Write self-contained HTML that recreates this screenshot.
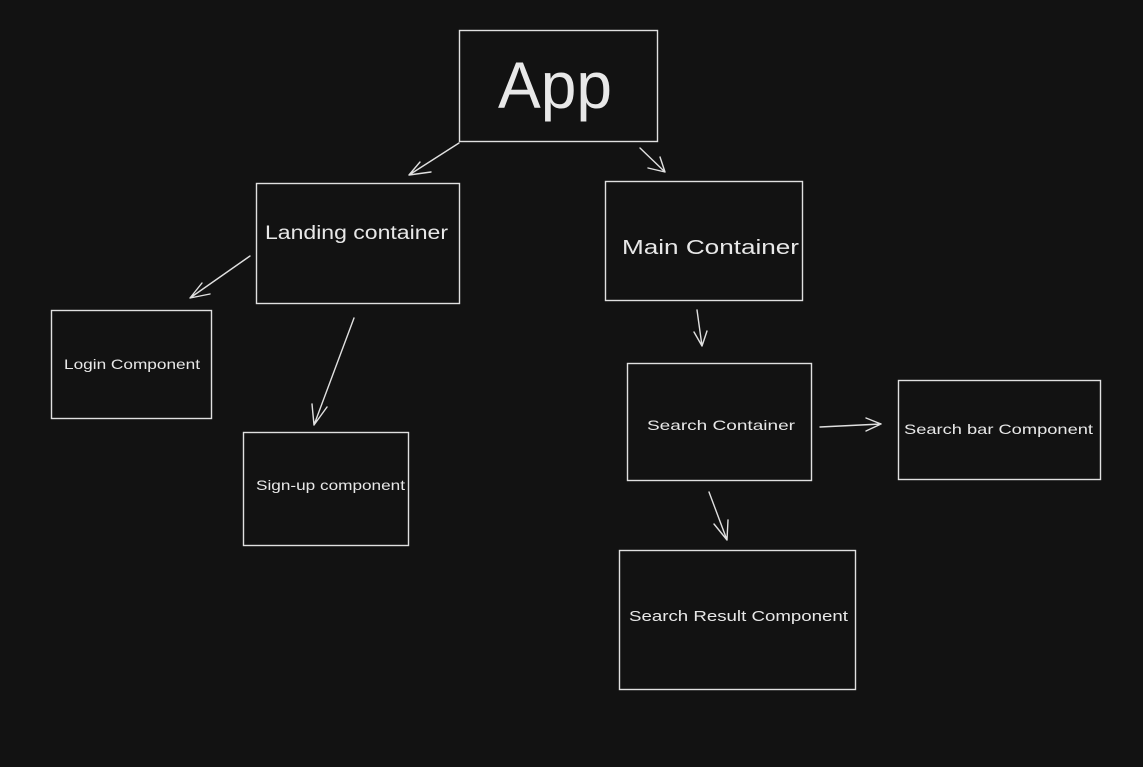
<!DOCTYPE html>
<html><head><meta charset="utf-8"><style>
html,body{margin:0;padding:0;background:#121212;}
svg{display:block}
text{font-family:"Liberation Sans","DejaVu Sans",sans-serif;fill:#e8e8e8;}
</style></head><body>
<svg width="1143" height="767" viewBox="0 0 1143 767" xmlns="http://www.w3.org/2000/svg">
<rect width="1143" height="767" fill="#121212"/>
<g fill="none" stroke="#e0e0e0" stroke-width="1.4" stroke-linecap="round">
<rect x="459.5" y="30.5" width="198" height="111"/>
<rect x="256.5" y="183.5" width="203" height="120"/>
<rect x="605.5" y="181.5" width="197" height="119"/>
<rect x="51.5" y="310.5" width="160" height="108"/>
<rect x="243.5" y="432.5" width="165" height="113"/>
<rect x="627.5" y="363.5" width="184" height="117"/>
<rect x="898.5" y="380.5" width="202" height="99"/>
<rect x="619.5" y="550.5" width="236" height="139"/>
<!-- arrows -->
<path d="M459 143 L409 175 M409 175 L420 162 M409 175 L431 172"/>
<path d="M640 148 L665 172 M665 172 L648 168 M665 172 L660 157"/>
<path d="M250 256 L190 298 M190 298 L202 283 M190 298 L210 294"/>
<path d="M354 318 L314 425 M314 425 L312 404 M314 425 L327 407"/>
<path d="M697 310 L702 346 M702 346 L694 332 M702 346 L707 331"/>
<path d="M820 427 L881 424 M881 424 L866 418 M881 424 L866 431"/>
<path d="M709 492 L727 540 M727 540 L714 524 M727 540 L728 520"/>
</g>
<text x="555" y="108" font-size="66" text-anchor="middle" textLength="114" lengthAdjust="spacingAndGlyphs">App</text>
<text x="265" y="239" font-size="19" textLength="183" lengthAdjust="spacingAndGlyphs">Landing container</text>
<text x="622" y="254" font-size="20" textLength="177" lengthAdjust="spacingAndGlyphs">Main Container</text>
<text x="64" y="369" font-size="14" textLength="136" lengthAdjust="spacingAndGlyphs">Login Component</text>
<text x="256" y="490" font-size="14" textLength="149" lengthAdjust="spacingAndGlyphs">Sign-up component</text>
<text x="647" y="430" font-size="14" textLength="148" lengthAdjust="spacingAndGlyphs">Search Container</text>
<text x="904" y="434" font-size="14" textLength="189" lengthAdjust="spacingAndGlyphs">Search bar Component</text>
<text x="629" y="621" font-size="15" textLength="219" lengthAdjust="spacingAndGlyphs">Search Result Component</text>
</svg>
</body></html>
